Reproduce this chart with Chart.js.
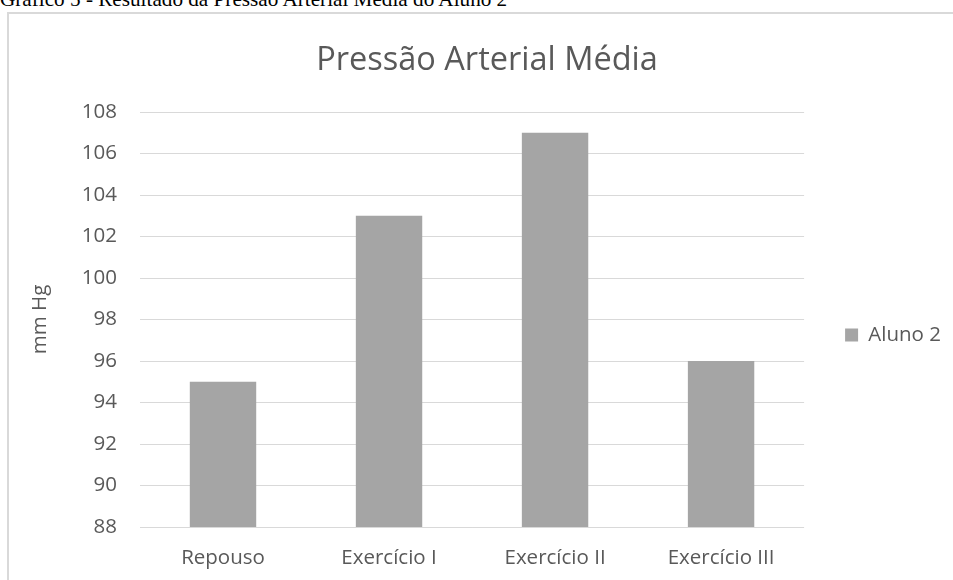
<!DOCTYPE html>
<html>
<head>
<meta charset="utf-8">
<script src="https://cdn.jsdelivr.net/npm/chart.js@4.4.0/dist/chart.umd.min.js"></script>
<style>
  html, body { margin: 0; padding: 0; background: #fff; overflow: hidden; }
  body { width: 953px; height: 580px; position: relative; }
  .caption {
    position: absolute; left: 0; top: -11px;
    font: 21.2px "Liberation Serif", "Times New Roman", serif;
    line-height: 1; color: #000; white-space: nowrap;
  }
  .frame {
    position: absolute; left: 7px; top: 12px;
    width: 944px; height: 566px;
    border-left: 2px solid #d9d9d9; border-top: 2px solid #d9d9d9;
  }
  .frame canvas { display: block; }
</style>
</head>
<body>
<div class="caption">Gráfico 5 - Resultado da Pressão Arterial Média do Aluno 2</div>
<div class="frame"><canvas id="pamChart" width="944" height="566"></canvas></div>
<script>
const categories = ['Repouso', 'Exercício I', 'Exercício II', 'Exercício III'];
const aluno2 = [95, 103, 107, 96];
const yMin = 88;
const yMax = 108;
const yStep = 2;

const textColor = '#595959';
const gridColor = '#d9d9d9';
const barColor = '#a5a5a5';
const fontFamily = '"Open Sans", sans-serif';
const tickSize = 20.5;

const ctx = document.getElementById('pamChart').getContext('2d');
new Chart(ctx, {
    type: 'bar',
    data: {
        labels: categories,
        datasets: [
            {
                label: 'Aluno 2',
                data: aluno2,
                backgroundColor: barColor,
                borderWidth: 0,
                categoryPercentage: 1,
                barPercentage: 0.4
            }
        ]
    },
    options: {
        responsive: false,
        animation: false,
        layout: { padding: { left: 14, right: 2, top: 0, bottom: 0 } },
        plugins: {
            title: {
                display: true,
                text: 'Pressão Arterial Média',
                color: textColor,
                font: { family: fontFamily, size: 32.5, weight: 'normal' },
                padding: { top: 27, bottom: 32 }
            },
            legend: {
                position: 'right',
                align: 'center',
                // empty title only pushes the entry down a bit
                title: { display: true, text: '', padding: { top: 52, bottom: 0 }, font: { size: 20 } },
                labels: {
                    color: textColor,
                    font: { family: fontFamily, size: tickSize },
                    boxWidth: 13,
                    boxHeight: 13,
                    padding: 41
                }
            },
            tooltip: { enabled: false }
        },
        scales: {
            x: {
                grid: { display: false, drawTicks: false },
                border: { display: false },
                ticks: {
                    color: textColor,
                    font: { family: fontFamily, size: tickSize },
                    padding: 19,
                    maxRotation: 0
                },
                afterFit(scale) { scale.height = 53; }
            },
            y: {
                min: yMin,
                max: yMax,
                grid: { color: gridColor, lineWidth: 1, drawTicks: false },
                border: { display: false },
                ticks: {
                    stepSize: yStep,
                    color: textColor,
                    font: { family: fontFamily, size: tickSize },
                    padding: 23
                },
                title: {
                    display: true,
                    text: 'mm Hg',
                    color: textColor,
                    font: { family: fontFamily, size: tickSize },
                    padding: { top: 5, bottom: 0 }
                },
                afterFit(scale) { scale.width = 117; }
            }
        }
    }
});
</script>
</body>
</html>
